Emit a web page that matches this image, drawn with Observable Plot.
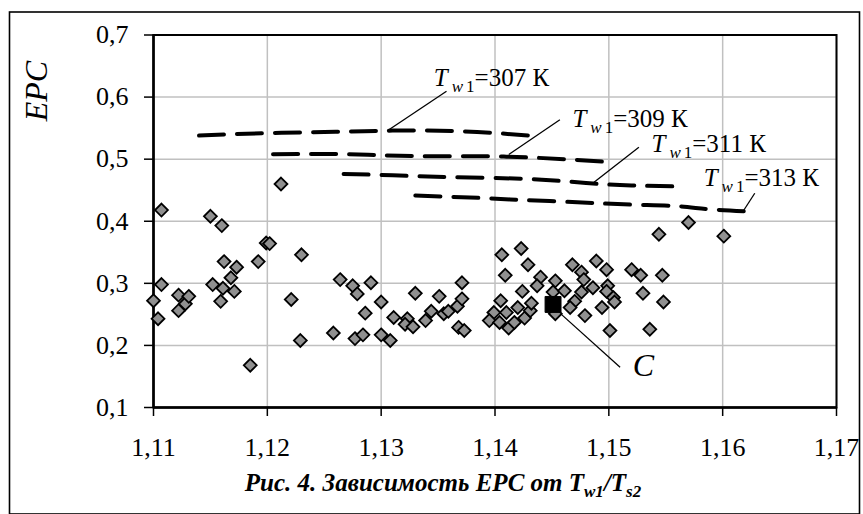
<!DOCTYPE html>
<html><head><meta charset="utf-8">
<script src="https://cdn.jsdelivr.net/npm/d3@7"></script>
<script src="https://cdn.jsdelivr.net/npm/@observablehq/plot@0.6"></script>
<style>html,body{margin:0;padding:0;background:#fff;} #chart{width:863px;height:514px;}</style>
</head><body><div id="chart"></div>
<script>
const xTicks = [1.11, 1.12, 1.13, 1.14, 1.15, 1.16, 1.17];
const yTicks = [0.1, 0.2, 0.3, 0.4, 0.5, 0.6, 0.7];

const scatterX = [1.1107,1.1107,1.1100,1.1104,1.1122,1.1122,1.1128,1.1131,1.1150,1.1160,1.1152,1.1162,1.1159,1.1161,1.1168,1.1173,1.1171,1.1185,1.1192,1.1199,1.1202,1.1212,1.1230,1.1221,1.1229,1.1264,1.1275,1.1279,1.1291,1.1286,1.1300,1.1258,1.1277,1.1284,1.1300,1.1308,1.1311,1.1323,1.1321,1.1328,1.1330,1.1339,1.1344,1.1351,1.1355,1.1359,1.1367,1.1371,1.1371,1.1368,1.1373,1.1406,1.1423,1.1409,1.1429,1.1440,1.1437,1.1424,1.1405,1.1399,1.1395,1.1404,1.1412,1.1410,1.1417,1.1420,1.1426,1.1431,1.1432,1.1453,1.1451,1.1453,1.1461,1.1468,1.1476,1.1478,1.1476,1.1470,1.1466,1.1479,1.1486,1.1489,1.1498,1.1499,1.1498,1.1504,1.1505,1.1494,1.1501,1.1520,1.1528,1.1530,1.1536,1.1544,1.1547,1.1548,1.1570,1.1601];
const scatterY = [0.418,0.298,0.272,0.243,0.281,0.256,0.267,0.279,0.408,0.393,0.298,0.335,0.271,0.292,0.309,0.326,0.287,0.168,0.335,0.365,0.364,0.460,0.346,0.274,0.208,0.306,0.296,0.283,0.301,0.252,0.270,0.220,0.211,0.217,0.217,0.208,0.245,0.243,0.234,0.230,0.284,0.240,0.255,0.279,0.251,0.255,0.263,0.275,0.301,0.229,0.224,0.346,0.356,0.313,0.330,0.310,0.296,0.287,0.272,0.253,0.240,0.237,0.228,0.253,0.237,0.261,0.244,0.256,0.268,0.304,0.286,0.251,0.288,0.330,0.318,0.306,0.286,0.271,0.261,0.248,0.293,0.336,0.322,0.296,0.287,0.277,0.270,0.261,0.224,0.322,0.313,0.284,0.226,0.379,0.313,0.270,0.398,0.376];

const pointCX = [1.1451];
const pointCY = [0.266];
const pointCLabel = ["C"];

const temps = [307, 309, 311, 313];
const curve307X = [1.1140, 1.1200, 1.1260, 1.1310, 1.1370, 1.1430];
const curve307Y = [0.538, 0.542, 0.544, 0.546, 0.545, 0.538];
const curve309X = [1.1205, 1.1270, 1.1330, 1.1410, 1.1495];
const curve309Y = [0.508, 0.508, 0.505, 0.504, 0.496];
const curve311X = [1.1267, 1.1310, 1.1360, 1.1430, 1.1480, 1.1520, 1.1561];
const curve311Y = [0.476, 0.474, 0.471, 0.468, 0.4615, 0.4577, 0.456];
const curve313X = [1.1330, 1.1385, 1.1420, 1.1455, 1.1490, 1.1525, 1.1560, 1.1590, 1.16275];
const curve313Y = [0.4414, 0.4377, 0.4345, 0.432, 0.429, 0.4265, 0.4243, 0.419, 0.4155];

const labelX = [1.13463, 1.1468, 1.15375, 1.15833];
const labelY = [0.6175, 0.5526, 0.5123, 0.4564];
const leaderX1 = [1.13068, 1.14121, 1.1487, 1.16174];
const leaderY1 = [0.5473, 0.5075, 0.4628, 0.4145];
const leaderX2 = [1.13574, 1.14570, 1.15264, 1.16282];
const leaderY2 = [0.6095, 0.5634, 0.5193, 0.4451];

const cLeaderX = [1.14578, 1.15099];
const cLeaderY = [0.2508, 0.1648];
const cTextX = [1.1521];
const cTextY = [0.1514];

const scatter = scatterX.map((x, i) => ({x, y: scatterY[i]}));
const curveX = [curve307X, curve309X, curve311X, curve313X];
const curveY = [curve307Y, curve309Y, curve311Y, curve313Y];
const curves = temps.flatMap((t, k) => curveX[k].map((x, i) => ({t, x, y: curveY[k][i]})));
const labels = temps.map((t, i) => ({t, x: labelX[i], y: labelY[i]}));
const leaders = temps.map((t, i) => ({x1: leaderX1[i], y1: leaderY1[i], x2: leaderX2[i], y2: leaderY2[i]}));
const cPoint = pointCX.map((x, i) => ({x, y: pointCY[i]}));
const cLeader = [{x1: cLeaderX[0], y1: cLeaderY[0], x2: cLeaderX[1], y2: cLeaderY[1]}];
const cText = cTextX.map((x, i) => ({x, y: cTextY[i], s: pointCLabel[i]}));

const fmtX = d => d.toFixed(2).replace(".", ",");
const fmtY = d => d.toFixed(1).replace(".", ",");
const serif = "'Liberation Serif', 'Times New Roman', serif";

const svg = Plot.plot({
  width: 863,
  height: 514,
  marginLeft: 153,
  marginRight: 27,
  marginTop: 34.5,
  marginBottom: 107,
  x: {domain: [1.11, 1.17], label: null},
  y: {domain: [0.1, 0.7], label: null},
  style: {fontFamily: serif, fontSize: "26px", color: "black", background: "white", overflow: "visible"},
  marks: [
    Plot.gridX(xTicks, {stroke: "#c0c0c0", strokeOpacity: 1, strokeWidth: 1.5}),
    Plot.gridY(yTicks, {stroke: "#c0c0c0", strokeOpacity: 1, strokeWidth: 1.5}),
    Plot.frame({stroke: "black", strokeWidth: 2}),
    Plot.ruleX([1.11], {stroke: "black", strokeWidth: 2.5}),
    Plot.ruleY([0.1], {stroke: "black", strokeWidth: 2.5}),
    Plot.axisX({ticks: xTicks, tickSize: 9, tickPadding: 21, tickFormat: fmtX, label: null, strokeWidth: 1.5, fontSize: 26}),
    Plot.axisY({ticks: yTicks, tickSize: 9, tickPadding: 16, tickFormat: fmtY, label: null, strokeWidth: 1.5, fontSize: 26}),
    Plot.line(curves, {x: "x", y: "y", z: "t", stroke: "black", strokeWidth: 4, strokeDasharray: "25,13", curve: "natural"}),
    Plot.link(leaders, {x1: "x1", y1: "y1", x2: "x2", y2: "y2", stroke: "black", strokeWidth: 1.3}),
    Plot.text(labels, {x: "x", y: "y", text: d => `T w1=${d.t} К`, textAnchor: "start", lineAnchor: "bottom", fontSize: 25, fill: "black"}),
    Plot.dot(scatter, {x: "x", y: "y", symbol: "diamond2", r: 5.8, fill: "#909090", stroke: "black", strokeWidth: 1.8}),
    Plot.dot(cPoint, {x: "x", y: "y", symbol: "square", r: 9, fill: "black", stroke: "black", strokeWidth: 1}),
    Plot.link(cLeader, {x1: "x1", y1: "y1", x2: "x2", y2: "y2", stroke: "black", strokeWidth: 1.3}),
    Plot.text(cText, {x: "x", y: "y", text: "s", textAnchor: "start", lineAnchor: "bottom", fontSize: 32, fontStyle: "italic", fill: "black"})
  ]
});

// format the temperature labels: italic T with subscript w1
d3.select(svg).selectAll("text").filter(function () {
  return this.textContent.startsWith("T w1=");
}).each(function () {
  const t = this.textContent;
  const rest = t.slice(t.indexOf("="));
  const sel = d3.select(this);
  sel.text(null);
  sel.append("tspan").attr("font-style", "italic").text("T");
  sel.append("tspan").attr("font-style", "italic").attr("font-size", "17px").attr("dx", 4).attr("dy", 6).text("w");
  sel.append("tspan").attr("font-size", "17px").attr("dx", 3).text("1");
  sel.append("tspan").attr("dy", -6).text(rest);
});

const s = d3.select(svg);
// outer border
s.insert("rect", ":first-child").attr("x", 9.5).attr("y", 12).attr("width", 850).attr("height", 502)
  .attr("fill", "white").attr("stroke", "black").attr("stroke-width", 1.6);
// y axis title
s.append("text").attr("transform", "translate(47,91) rotate(-90)").attr("text-anchor", "middle")
  .attr("font-family", serif).attr("font-style", "italic").attr("font-size", 32).attr("fill", "black").text("EPC");
// caption
const cap = s.append("text").attr("x", 443).attr("y", 491).attr("text-anchor", "middle")
  .attr("font-family", serif).attr("font-style", "italic").attr("font-weight", "bold").attr("font-size", 25).attr("fill", "black");
cap.append("tspan").text("Рис. 4. Зависимость EPC от T");
cap.append("tspan").attr("font-size", 17).attr("dy", 6).text("w1");
cap.append("tspan").attr("dy", -6).text("/T");
cap.append("tspan").attr("font-size", 17).attr("dy", 6).text("s2");

document.getElementById("chart").appendChild(svg);
</script>
</body></html>
